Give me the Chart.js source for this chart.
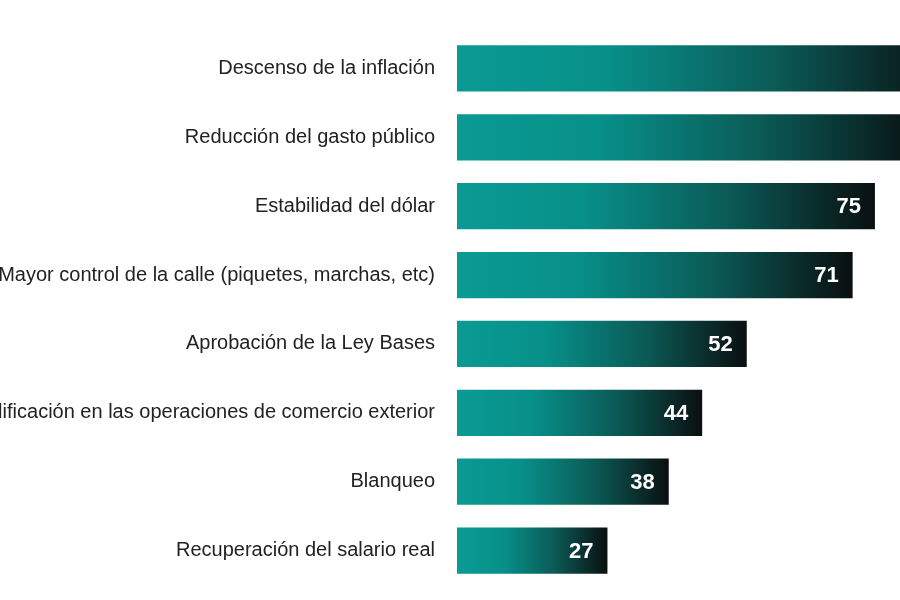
<!DOCTYPE html>
<html>
<head>
<meta charset="utf-8">
<script src="https://cdn.jsdelivr.net/npm/chart.js@4"></script>
<style>
  html, body { margin: 0; padding: 0; background: #fff; overflow: hidden; }
  #wrap { position: absolute; left: 0; top: 0; width: 900px; height: 619px; }
</style>
</head>
<body>
<div id="wrap"><canvas id="chart"></canvas></div>
<script>
// Labels and values (first two bars run past the edge)
const categories = [
    'Descenso de la inflación',
    'Reducción del gasto público',
    'Estabilidad del dólar',
    'Mayor control de la calle (piquetes, marchas, etc)',
    'Aprobación de la Ley Bases',
    'Simplificación en las operaciones de comercio exterior',
    'Blanqueo',
    'Recuperación del salario real'
];
const values = [88, 84, 75, 71, 52, 44, 38, 27];
const shownLabels = ['', '', '75', '71', '52', '44', '38', '27'];

function barGradient(context) {
    const chart = context.chart;
    if (!chart.chartArea) return '#0a9690';
    const x0 = chart.scales.x.getPixelForValue(0);
    const x1 = chart.scales.x.getPixelForValue(values[context.dataIndex]);
    const g = chart.ctx.createLinearGradient(x0, 0, x1, 0);
    g.addColorStop(0, '#0a9a94');
    g.addColorStop(0.3, '#08908a');
    g.addColorStop(0.65, '#0b5a56');
    g.addColorStop(1, '#0a0f10');
    return g;
}

const valueLabels = {
    id: 'valueLabels',
    afterDatasetsDraw(chart) {
        const ctx = chart.ctx;
        const meta = chart.getDatasetMeta(0);
        ctx.save();
        ctx.fillStyle = '#ffffff';
        ctx.font = 'bold 22px "Liberation Sans", Arial, sans-serif';
        ctx.textAlign = 'right';
        ctx.textBaseline = 'middle';
        meta.data.forEach((bar, i) => {
            if (shownLabels[i]) ctx.fillText(shownLabels[i], bar.x - 14, bar.y + 1);
        });
        ctx.restore();
    }
};

new Chart(document.getElementById('chart').getContext('2d'), {
    type: 'bar',
    data: {
        labels: categories,
        datasets: [{
            data: values,
            backgroundColor: barGradient,
            barPercentage: 0.67,
            categoryPercentage: 1.0
        }]
    },
    options: {
        indexAxis: 'y',
        responsive: true,
        maintainAspectRatio: false,
        animation: false,
        layout: { padding: { top: 15, bottom: 14, left: 0, right: 0 } },
        plugins: { legend: { display: false }, tooltip: { enabled: false } },
        scales: {
            x: {
                display: false,
                min: 0,
                max: 79.5
            },
            y: {
                afterFit(axis) { axis.width = 457; },
                grid: { display: false, drawTicks: false },
                border: { display: false },
                ticks: {
                    color: '#222',
                    padding: 22,
                    font: { size: 20, family: '"Liberation Sans", Arial, sans-serif' }
                }
            }
        }
    },
    plugins: [valueLabels]
});
</script>
</body>
</html>
